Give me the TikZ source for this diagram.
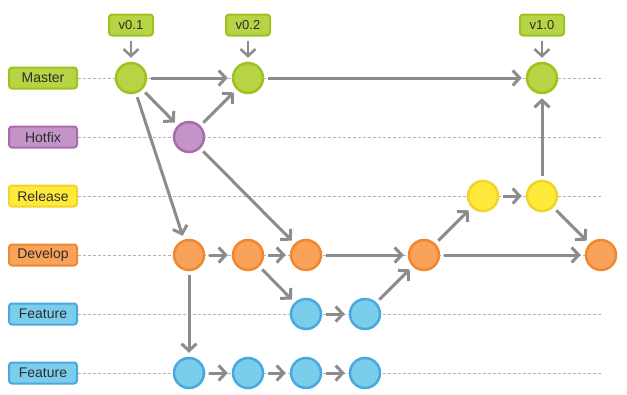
\documentclass[tikz,border=0pt]{standalone}
\usepackage{fontspec}
\setmainfont{Liberation Sans}
\usetikzlibrary{arrows.meta}

\definecolor{mfill}{RGB}{182,212,68}
\definecolor{mdraw}{RGB}{158,194,30}
\definecolor{hfill}{RGB}{196,148,200}
\definecolor{hdraw}{RGB}{168,108,174}
\definecolor{rfill}{RGB}{255,234,60}
\definecolor{rdraw}{RGB}{240,212,42}
\definecolor{dfill}{RGB}{248,162,90}
\definecolor{ddraw}{RGB}{240,136,48}
\definecolor{ffill}{RGB}{122,205,235}
\definecolor{fdraw}{RGB}{74,168,224}
\definecolor{arr}{RGB}{140,140,140}
\definecolor{txt}{RGB}{45,45,45}

\begin{document}
\begin{tikzpicture}[
x=1pt, y=-1pt,
font=\fontsize{14}{16}\selectfont
]

\tikzstyle{lbl} = [draw, line width=2pt, rounded corners=3pt, minimum width=68pt, minimum height=21pt, inner sep=0pt, text=txt]
\tikzstyle{tagbox} = [lbl, minimum width=44pt, fill=mfill, draw=mdraw, font=\fontsize{13}{15}\selectfont]
\tikzstyle{commit} = [circle, line width=2.5pt, minimum size=30pt, inner sep=0pt]
\tikzstyle{lane} = [densely dashed, line width=0.6pt, draw=black!30]
\tikzstyle{flow} = [draw=arr, line width=3pt, -{Straight Barb[length=7pt,width=15pt]}, shorten <=4pt, shorten >=4pt]

\useasboundingbox (0,0) rectangle (627,394);

% branch labels
\node[lbl, fill=mfill, draw=mdraw] (lM) at (43,78) {Master};
\node[lbl, fill=hfill, draw=hdraw] (lH) at (43,137) {Hotfix};
\node[lbl, fill=rfill, draw=rdraw] (lR) at (43,196) {Release};
\node[lbl, fill=dfill, draw=ddraw] (lD) at (43,255) {Develop};
\node[lbl, fill=ffill, draw=fdraw] (lF) at (43,314) {Feature};
\node[lbl, fill=ffill, draw=fdraw] (lG) at (43,373) {Feature};

% lanes
\coordinate (eM) at (602,78);
\coordinate (eH) at (602,137);
\coordinate (eR) at (602,196);
\coordinate (eD) at (602,255);
\coordinate (eF) at (602,314);
\coordinate (eG) at (602,373);
\foreach \b in {M,H,R,D,F,G}
	\draw[lane] (l\b.east) -- (e\b);

% commits
\node[commit, fill=mfill, draw=mdraw] (m1) at (131,78) {};
\node[commit, fill=mfill, draw=mdraw] (m2) at (248,78) {};
\node[commit, fill=mfill, draw=mdraw] (m3) at (542,78) {};
\node[commit, fill=hfill, draw=hdraw] (h1) at (189,137) {};
\node[commit, fill=rfill, draw=rdraw] (r1) at (483,196) {};
\node[commit, fill=rfill, draw=rdraw] (r2) at (542,196) {};
\node[commit, fill=dfill, draw=ddraw] (d1) at (189,255) {};
\node[commit, fill=dfill, draw=ddraw] (d2) at (248,255) {};
\node[commit, fill=dfill, draw=ddraw] (d3) at (306,255) {};
\node[commit, fill=dfill, draw=ddraw] (d4) at (424,255) {};
\node[commit, fill=dfill, draw=ddraw] (d5) at (601,255) {};
\node[commit, fill=ffill, draw=fdraw] (f1) at (306,314) {};
\node[commit, fill=ffill, draw=fdraw] (f2) at (365,314) {};
\node[commit, fill=ffill, draw=fdraw] (g1) at (189,373) {};
\node[commit, fill=ffill, draw=fdraw] (g2) at (248,373) {};
\node[commit, fill=ffill, draw=fdraw] (g3) at (306,373) {};
\node[commit, fill=ffill, draw=fdraw] (g4) at (365,373) {};

% tags
\node[tagbox] (t1) at (131,25) {v0.1};
\node[tagbox] (t2) at (248,25) {v0.2};
\node[tagbox] (t3) at (542,25) {v1.0};
\draw[flow, line width=2.5pt] (t1) -- (m1);
\draw[flow, line width=2.5pt] (t2) -- (m2);
\draw[flow, line width=2.5pt] (t3) -- (m3);

% merges
\draw[flow] (m1) -- (m2);
\draw[flow] (m2) -- (m3);
\draw[flow] (m1) -- (h1);
\draw[flow] (h1) -- (m2);
\draw[flow] (m1) -- (d1);
\draw[flow] (h1) -- (d3);
\draw[flow] (d1) -- (d2);
\draw[flow] (d2) -- (d3);
\draw[flow] (d3) -- (d4);
\draw[flow] (d4) -- (d5);
\draw[flow] (d2) -- (f1);
\draw[flow] (f1) -- (f2);
\draw[flow] (f2) -- (d4);
\draw[flow] (d4) -- (r1);
\draw[flow] (r1) -- (r2);
\draw[flow] (r2) -- (m3);
\draw[flow] (r2) -- (d5);
\draw[flow] (d1) -- (g1);
\draw[flow] (g1) -- (g2);
\draw[flow] (g2) -- (g3);
\draw[flow] (g3) -- (g4);
\end{tikzpicture}
\end{document}
